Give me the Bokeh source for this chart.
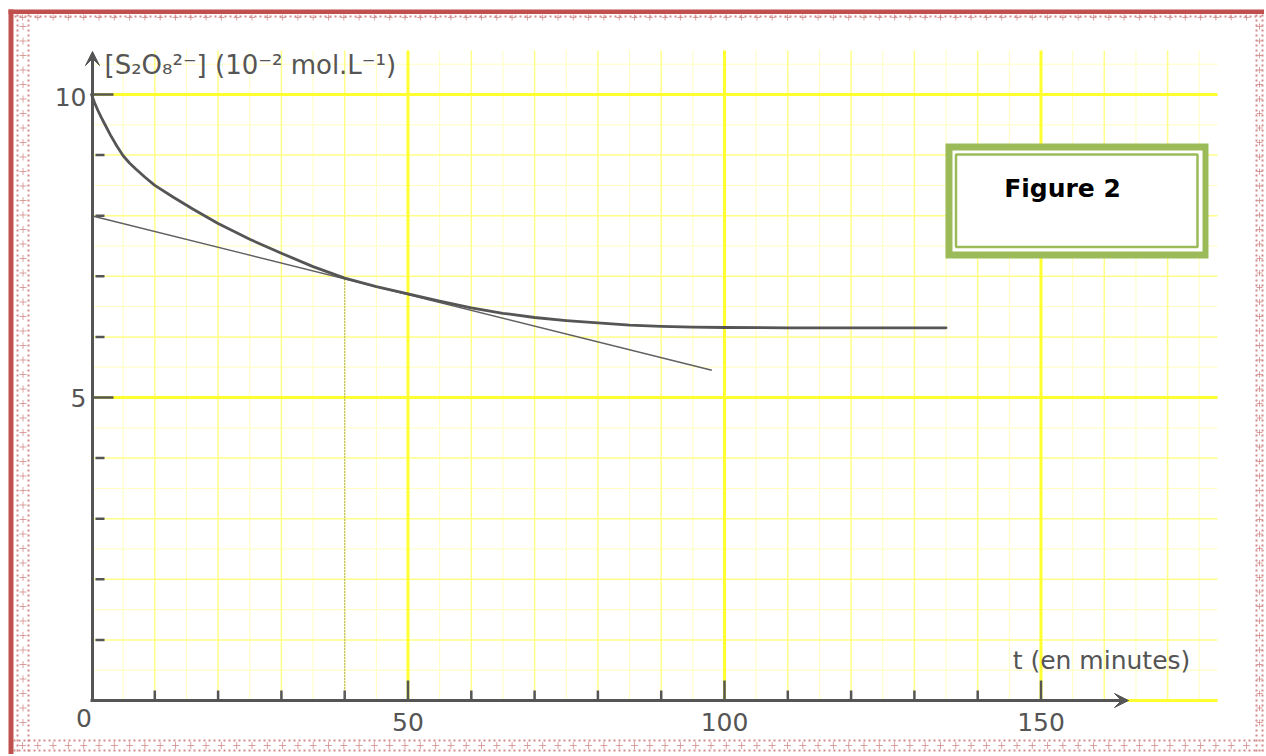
import numpy as np
from bokeh.plotting import figure
from bokeh.models import Range1d, Arrow, VeeHead
from bokeh.core.properties import value
from bokeh.embed import file_html
from bokeh.resources import INLINE

# ---------------- data ----------------
t_min = [0, 0.5, 1, 1.5, 2, 3, 4, 5, 6, 7, 8.5, 10, 13, 16, 20, 25, 30, 35,
         40, 45, 50, 55, 60, 65, 70, 75, 80, 85, 90, 95, 100, 110, 120, 135]
conc = [10.0, 9.86, 9.74, 9.63, 9.53, 9.33, 9.15, 8.99, 8.87, 8.77, 8.63,
        8.5, 8.3, 8.11, 7.87, 7.61, 7.38, 7.16, 6.97, 6.83, 6.71, 6.59,
        6.48, 6.39, 6.32, 6.27, 6.23, 6.195, 6.175, 6.16, 6.155, 6.15,
        6.15, 6.15]

tangent_t = [0, 98]
tangent_y = [8.0, 5.45]
tangent_point_t = 40
tangent_point_y = 6.96

xtick_major = [50, 100, 150]
xtick_minor = [10, 20, 30, 40, 60, 70, 80, 90, 110, 120, 130, 140]
ytick_major = [5, 10]
ytick_minor = [1, 2, 3, 4, 6, 7, 8, 9]
xtick_labels = ["0", "50", "100", "150"]
xtick_label_pos = [0, 50, 100, 150]
ytick_labels = ["5", "10"]
ytick_label_pos = [5, 10]

y_title = "[S\u2082O\u2088\u00b2\u207b] (10\u207b\u00b2 mol.L\u207b\u00b9)"
x_title = "t (en minutes)"
fig_label = "Figure 2"

# ---------------- scale helpers (page pixel -> data) ----------------
W, H = 1264, 754

def tx(px):
    return (px - 91) / 6.33

def ty(py):
    return (700 - py) / 60.6

p = figure(width=W, height=H,
           x_range=Range1d(tx(0), tx(W)), y_range=Range1d(ty(H), ty(0)),
           x_axis_location=None, y_axis_location=None, title=None,
           toolbar_location=None, output_backend="svg", min_border=0,
           background_fill_color="white", border_fill_color="white",
           outline_line_color=None)
p.xgrid.visible = False
p.ygrid.visible = False

AX = "#555555"
FONT = value("DejaVu Sans")

# ---------------- decorative page border ----------------
red = "#c0504d"
dot = "#d28a8a"
p.quad(left=[tx(8)], right=[tx(1270)], top=[ty(9)], bottom=[ty(13.5)],
       fill_color=red, line_color=None)
p.quad(left=[tx(8)], right=[tx(13)], top=[ty(9)], bottom=[ty(760)],
       fill_color=red, line_color=None)
p.segment(x0=[tx(14)], y0=[ty(16)], x1=[tx(1266)], y1=[ty(16)],
          line_color=dot, line_width=2, line_dash="2 3")
for xx in (17, 28):
    p.segment(x0=[tx(xx)], y0=[ty(14)], x1=[tx(xx)], y1=[ty(760)],
              line_color=dot, line_width=2, line_dash="2 3")
for yy in (740, 750):
    p.segment(x0=[tx(13)], y0=[ty(yy)], x1=[tx(1266)], y1=[ty(yy)],
              line_color=dot, line_width=2, line_dash="2 3")
for xx in (1256, 1262):
    p.segment(x0=[tx(xx)], y0=[ty(14)], x1=[tx(xx)], y1=[ty(760)],
              line_color=dot, line_width=2, line_dash="2 3")
cx = np.arange(22, 1250, 15.3)
p.scatter([tx(v) for v in cx], [ty(17)] * len(cx), marker="cross", size=6,
          line_color=dot, line_width=1, line_alpha=0.8)
p.scatter([tx(v) for v in cx], [ty(745)] * len(cx), marker="cross", size=7,
          line_color=dot, line_width=1, line_alpha=0.8)
cy = np.arange(26, 736, 14.5)
p.scatter([tx(22.5)] * len(cy), [ty(v) for v in cy], marker="cross", size=7,
          line_color=dot, line_width=1, line_alpha=0.8)
p.scatter([tx(1259)] * len(cy), [ty(v) for v in cy], marker="cross", size=6,
          line_color=dot, line_width=1, line_alpha=0.8)

# ---------------- graph paper grid ----------------
x_end_grid = tx(1217)
y_top_grid = ty(50)
gx_minor = [v for v in np.arange(5, 180, 5) if v % 10 != 0]
gx_mid = [v for v in np.arange(10, 180, 10) if v % 50 != 0]
gx_major = [50, 100, 150]
gy_minor = [v for v in np.arange(0.5, 11, 0.5) if v % 1 != 0]
gy_mid = [v for v in np.arange(1, 11, 1) if v % 5 != 0]
gy_major = [0, 5, 10]

def vgrid(xs, color, w):
    p.segment(x0=xs, y0=[0] * len(xs), x1=xs, y1=[y_top_grid] * len(xs),
              line_color=color, line_width=w)

def hgrid(ys, color, w):
    p.segment(x0=[0] * len(ys), y0=ys, x1=[x_end_grid] * len(ys), y1=ys,
              line_color=color, line_width=w)

vgrid(gx_minor, "#ffffc0", 1)
hgrid(gy_minor, "#ffffc0", 1)
vgrid(gx_mid, "#ffff88", 1.5)
hgrid(gy_mid, "#ffff88", 1.5)
vgrid(gx_major, "#ffff30", 3)
hgrid(gy_major, "#ffff30", 3)

# ---------------- axes ----------------
p.add_layout(Arrow(end=VeeHead(size=14, fill_color=AX, line_color=AX),
                   x_start=tx(92), y_start=ty(701), x_end=tx(92), y_end=ty(51),
                   line_color=AX, line_width=3))
p.add_layout(Arrow(end=VeeHead(size=14, fill_color=AX, line_color=AX),
                   x_start=tx(90), y_start=ty(700), x_end=tx(1128), y_end=ty(700),
                   line_color=AX, line_width=3))

# ticks
p.segment(x0=xtick_minor, y0=[0] * len(xtick_minor), x1=xtick_minor,
          y1=[ty(690)] * len(xtick_minor), line_color=AX, line_width=2.5)
p.segment(x0=xtick_major, y0=[0] * len(xtick_major), x1=xtick_major,
          y1=[ty(680)] * len(xtick_major), line_color=AX, line_width=2.5)
p.segment(x0=[tx(95)] * len(ytick_minor), y0=ytick_minor,
          x1=[tx(104)] * len(ytick_minor), y1=ytick_minor,
          line_color=AX, line_width=2.5)
p.segment(x0=[tx(92)] * len(ytick_major), y0=ytick_major,
          x1=[tx(113)] * len(ytick_major), y1=ytick_major,
          line_color=AX, line_width=2.5)

# tick labels
p.text(x=[tx(83.5)] + xtick_label_pos[1:], y=[ty(717)] + [ty(721)] * 3,
       text=xtick_labels, text_font=FONT, text_font_size="25px",
       text_color=AX, text_align="center", text_baseline="middle")
p.text(x=[tx(86)] * 2, y=[ty(397), ty(96)], text=ytick_labels,
       text_font=FONT, text_font_size="25px", text_color=AX,
       text_align="right", text_baseline="middle")

# axis titles
p.text(x=[tx(104)], y=[ty(64)], text=[y_title], text_font=FONT,
       text_font_size="26px", text_color=AX, text_align="left",
       text_baseline="alphabetic")
p.text(x=[tx(1101)], y=[ty(660)], text=[x_title], text_font=FONT,
       text_font_size="25px", text_color=AX, text_align="center",
       text_baseline="middle")

# ---------------- curves ----------------
p.segment(x0=[tangent_point_t], y0=[0], x1=[tangent_point_t],
          y1=[tangent_point_y], line_color="#777777", line_width=1.2,
          line_dash="1 2")
p.line(tangent_t, tangent_y, line_color="#606060", line_width=1.4)
p.line(t_min, conc, line_color="#555555", line_width=2.8,
       line_join="round", line_cap="round")

# ---------------- "Figure 2" box ----------------
green = "#9bbb59"
p.quad(left=[tx(945)], right=[tx(1208)], top=[ty(143)], bottom=[ty(258)],
       fill_color=green, line_color=None)
p.quad(left=[tx(952)], right=[tx(1202)], top=[ty(150)], bottom=[ty(251)],
       fill_color="white", line_color=None)
p.quad(left=[tx(955.5)], right=[tx(1197)], top=[ty(154)], bottom=[ty(246.5)],
       fill_color="white", line_color=green, line_width=2.5)
p.text(x=[tx(1062)], y=[ty(188)], text=[fig_label], text_font=FONT,
       text_font_size="25px", text_font_style="bold", text_color="black",
       text_align="center", text_baseline="middle")

open("out.html", "w").write(file_html(p, INLINE))
